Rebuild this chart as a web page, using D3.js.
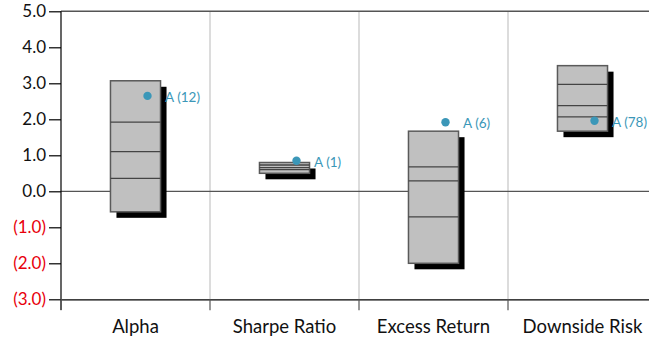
<!DOCTYPE html>
<html><head><meta charset="utf-8">
<script src="https://cdn.jsdelivr.net/npm/d3@7"></script>
<style>html,body{margin:0;padding:0;background:#fff;}svg{display:block;font-family:Lato,"Open Sans",sans-serif;}</style>
</head><body>
<svg id="c" width="649" height="339"></svg>
<script>
const categories = ["Alpha", "Sharpe Ratio", "Excess Return", "Downside Risk"];
const boxTop    = [3.07, 0.80, 1.67, 3.49];
const line1     = [1.92, 0.73, 0.68, 2.97];
const line2     = [1.10, 0.66, 0.29, 2.38];
const line3     = [0.36, 0.60, -0.71, 2.07];
const boxBottom = [-0.57, 0.50, -2.00, 1.67];
const pointValues = [2.65, 0.85, 1.92, 1.96];
const pointLabels = ["A (12)", "A (1)", "A (6)", "A (78)"];
const yTicks = [5, 4, 3, 2, 1, 0, -1, -2, -3];

const svg = d3.select("#c");
const pLeft = 61, pRight = 657, pTop = 11.3, pBottom = 299.3;
const x = d3.scaleBand().domain(categories).range([pLeft, pRight]).padding(0);
const y = d3.scaleLinear().domain([-3, 5]).range([pBottom, pTop]);
const bw = x.bandwidth() * 0.336;
const fmt = v => v < 0 ? "(" + d3.format(".1f")(-v) + ")" : d3.format(".1f")(v);

// vertical gridlines between categories
svg.append("g").selectAll("line").data(categories.slice(1)).join("line")
  .attr("x1", d => x(d)).attr("x2", d => x(d))
  .attr("y1", pTop).attr("y2", pBottom)
  .attr("stroke", "#dcdcdc").attr("stroke-width", 2);

// top border
svg.append("line").attr("x1", pLeft).attr("x2", 649).attr("y1", pTop).attr("y2", pTop)
  .attr("stroke", "#555").attr("stroke-width", 1.5);

// zero line
svg.append("line").attr("x1", pLeft).attr("x2", 649).attr("y1", y(0)).attr("y2", y(0))
  .attr("stroke", "#555").attr("stroke-width", 1.2);

// y axis
const ya = svg.append("g").attr("transform", `translate(${pLeft},0)`)
  .call(d3.axisLeft(y).tickValues(yTicks).tickFormat(fmt).tickSize(12).tickPadding(3));
ya.select(".domain").remove();
ya.selectAll(".tick line").attr("stroke", "#000").attr("stroke-width", 1.2);
ya.selectAll(".tick text").attr("font-size", 17).attr("font-family", "Lato, sans-serif")
  .attr("fill", d => d < 0 ? "#e8000b" : "#111");
svg.append("line").attr("x1", pLeft).attr("x2", pLeft).attr("y1", pTop).attr("y2", 310)
  .attr("stroke", "#000").attr("stroke-width", 1.2);

// x axis
const xa = svg.append("g").attr("transform", `translate(0,${pBottom})`)
  .call(d3.axisBottom(x).tickSize(0).tickPadding(21));
xa.select(".domain").attr("stroke", "#000").attr("stroke-width", 1.2);
xa.selectAll(".tick text").attr("font-size", 18.5).attr("font-family", "Lato, sans-serif").attr("fill", "#111");
svg.append("g").selectAll("line").data(categories).join("line")
  .attr("x1", d => x(d)).attr("x2", d => x(d))
  .attr("y1", pBottom).attr("y2", pBottom + 11)
  .attr("stroke", "#555").attr("stroke-width", 1.2);

const idx = d3.range(categories.length);
const cx = i => x(categories[i]) + x.bandwidth() / 2;

// shadows
svg.append("g").selectAll("rect").data(idx).join("rect")
  .attr("x", i => cx(i) - bw / 2 + 6).attr("y", i => y(boxTop[i]) + 6)
  .attr("width", bw).attr("height", i => y(boxBottom[i]) - y(boxTop[i]))
  .attr("fill", "#000");
// boxes
svg.append("g").selectAll("rect").data(idx).join("rect")
  .attr("x", i => cx(i) - bw / 2).attr("y", i => y(boxTop[i]))
  .attr("width", bw).attr("height", i => y(boxBottom[i]) - y(boxTop[i]))
  .attr("fill", "#c0c0c0").attr("stroke", "#5a5a5a").attr("stroke-width", 1.5);
// inner lines
[line1, line2, line3].forEach(arr => {
  svg.append("g").selectAll("line").data(idx).join("line")
    .attr("x1", i => cx(i) - bw / 2).attr("x2", i => cx(i) + bw / 2)
    .attr("y1", i => y(arr[i])).attr("y2", i => y(arr[i]))
    .attr("stroke", "#444").attr("stroke-width", 1.3);
});

// points
svg.append("g").selectAll("circle").data(idx).join("circle")
  .attr("cx", i => cx(i) + 12).attr("cy", i => y(pointValues[i]))
  .attr("r", 4.2).attr("fill", "#3b97b8");
svg.append("g").selectAll("text").data(idx).join("text")
  .attr("x", i => cx(i) + 29.5).attr("y", i => y(pointValues[i]) + 6)
  .attr("font-size", 13.5).attr("font-family", "Lato, sans-serif").attr("fill", "#3b97b8")
  .text(i => pointLabels[i]);
</script>
</body></html>
